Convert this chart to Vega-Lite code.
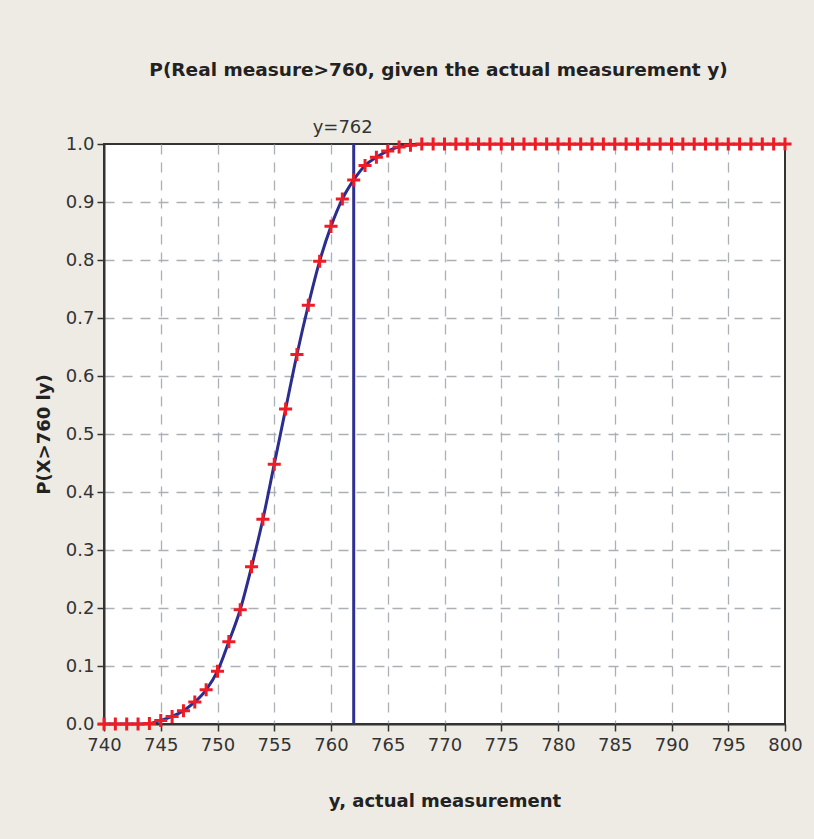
{
  "$schema": "https://vega.github.io/schema/vega-lite/v6.json",
  "autosize": {"type": "none"},
  "width": 681,
  "height": 580,
  "padding": {"left": 104, "top": 144, "right": 29, "bottom": 115},
  "background": "#eeebe4",
  "title": {
    "text": "P(Real measure>760, given the actual measurement y)",
    "font": "DejaVu Sans",
    "fontSize": 18.5,
    "fontWeight": "bold",
    "color": "#222222",
    "anchor": "middle",
    "offset": 40,
    "dx": -6
  },
  "config": {
    "font": "DejaVu Sans",
    "view": {"fill": "white", "stroke": "#333333", "strokeWidth": 2},
    "axis": {
      "labelFont": "DejaVu Sans",
      "labelFontSize": 18,
      "labelColor": "#333333",
      "labelFlush": false,
      "labelOverlap": false,
      "titleFont": "DejaVu Sans",
      "titleFontSize": 18,
      "titleFontWeight": "bold",
      "titleColor": "#222222",
      "domainColor": "#333333",
      "domainWidth": 2,
      "tickColor": "#333333",
      "tickWidth": 1.5,
      "tickSize": 7,
      "gridColor": "#aab0b6",
      "gridDash": [10, 8],
      "gridWidth": 1.3
    }
  },
  "data": {
    "values": [
      {"x": 740, "p": 0}, {"x": 741, "p": 0}, {"x": 742, "p": 0}, {"x": 743, "p": 0},
      {"x": 744, "p": 0.001}, {"x": 745, "p": 0.006}, {"x": 746, "p": 0.013}, {"x": 747, "p": 0.023},
      {"x": 748, "p": 0.038}, {"x": 749, "p": 0.059}, {"x": 750, "p": 0.091}, {"x": 751, "p": 0.142},
      {"x": 752, "p": 0.197}, {"x": 753, "p": 0.271}, {"x": 754, "p": 0.353}, {"x": 755, "p": 0.448},
      {"x": 756, "p": 0.543}, {"x": 757, "p": 0.637}, {"x": 758, "p": 0.722}, {"x": 759, "p": 0.798},
      {"x": 760, "p": 0.858}, {"x": 761, "p": 0.905}, {"x": 762, "p": 0.938}, {"x": 763, "p": 0.963},
      {"x": 764, "p": 0.977}, {"x": 765, "p": 0.988}, {"x": 766, "p": 0.995}, {"x": 767, "p": 0.998},
      {"x": 768, "p": 1}, {"x": 769, "p": 1}, {"x": 770, "p": 1}, {"x": 771, "p": 1}, {"x": 772, "p": 1},
      {"x": 773, "p": 1}, {"x": 774, "p": 1}, {"x": 775, "p": 1}, {"x": 776, "p": 1}, {"x": 777, "p": 1},
      {"x": 778, "p": 1}, {"x": 779, "p": 1}, {"x": 780, "p": 1}, {"x": 781, "p": 1}, {"x": 782, "p": 1},
      {"x": 783, "p": 1}, {"x": 784, "p": 1}, {"x": 785, "p": 1}, {"x": 786, "p": 1}, {"x": 787, "p": 1},
      {"x": 788, "p": 1}, {"x": 789, "p": 1}, {"x": 790, "p": 1}, {"x": 791, "p": 1}, {"x": 792, "p": 1},
      {"x": 793, "p": 1}, {"x": 794, "p": 1}, {"x": 795, "p": 1}, {"x": 796, "p": 1}, {"x": 797, "p": 1},
      {"x": 798, "p": 1}, {"x": 799, "p": 1}, {"x": 800, "p": 1}
    ]
  },
  "encoding": {
    "x": {
      "field": "x", "type": "quantitative",
      "scale": {"domain": [740, 800], "nice": false, "zero": false},
      "axis": {
        "values": [740,745,750,755,760,765,770,775,780,785,790,795,800],
        "title": "y, actual measurement", "titlePadding": 38, "labelPadding": 5,
        "gridOpacity": {"condition": {"test": "datum.value === 740 || datum.value === 800", "value": 0}, "value": 1}
      }
    },
    "y": {
      "field": "p", "type": "quantitative",
      "scale": {"domain": [0, 1], "nice": false},
      "axis": {
        "values": [0,0.1,0.2,0.3,0.4,0.5,0.6,0.7,0.8,0.9,1.0], "format": ".1f",
        "title": "P(X>760 ly)", "titlePadding": 12, "labelPadding": 3,
        "gridOpacity": {"condition": {"test": "datum.value === 0 || datum.value === 1", "value": 0}, "value": 1}
      }
    }
  },
  "layer": [
    {
      "mark": {"type": "line", "color": "#2b2d8f", "strokeWidth": 3, "interpolate": "monotone", "clip": true}
    },
    {
      "data": {"values": [{"x": 762, "label": "y=762"}]},
      "mark": {"type": "rule", "color": "#2e3192", "strokeWidth": 3},
      "encoding": {"y": {"value": 0}, "y2": {"value": 580}}
    },
    {
      "data": {"values": [{"x": 762, "p": 1, "label": "y=762"}]},
      "mark": {"type": "text", "fontSize": 18, "color": "#333333", "baseline": "bottom", "dy": -7, "dx": -11, "font": "DejaVu Sans"},
      "encoding": {"text": {"field": "label"}}
    },
    {
      "mark": {"type": "point", "shape": "M-1,0H1M0,-1V1", "filled": false, "color": "#ee1c24", "strokeWidth": 3, "size": 170, "opacity": 1}
    }
  ]
}
